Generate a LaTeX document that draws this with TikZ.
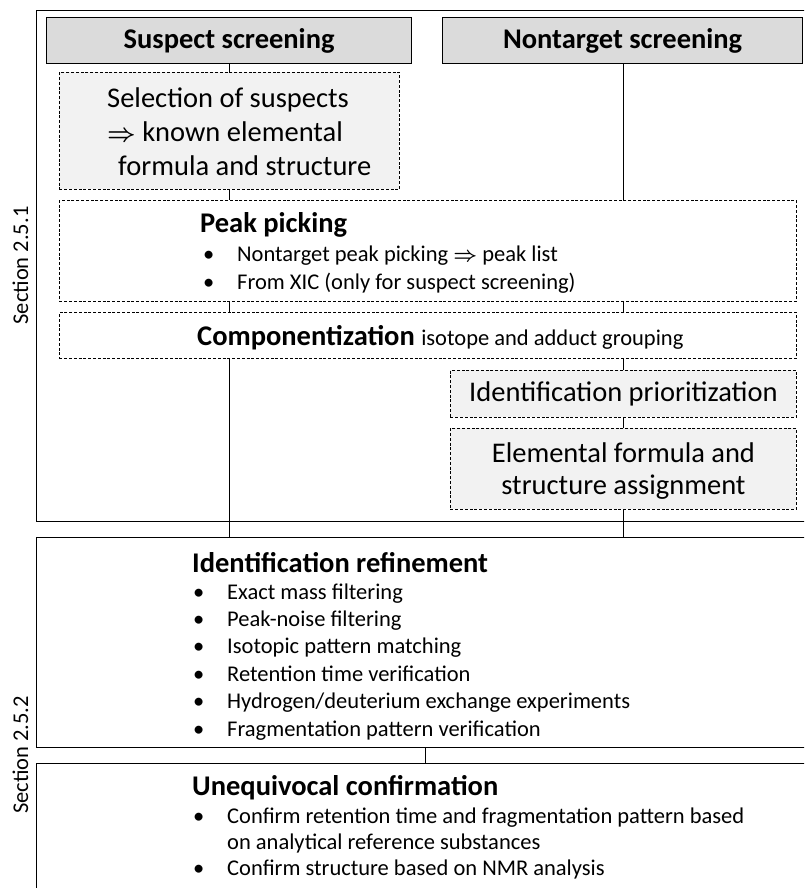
\documentclass[tikz,border=0pt]{standalone}
\usepackage{fontspec}
\setmainfont{Carlito}
\definecolor{hdrgray}{RGB}{219,219,219}
\definecolor{boxgray}{RGB}{242,242,242}
\newcommand\bulitem{\makebox[34pt][l]{•}}
\newcommand\impl{{\boldmath$\Rightarrow$}}
\begin{document}
\begin{tikzpicture}[x=1pt,y=-1pt,
  solidbox/.style={draw, line width=1.2pt, rectangle, anchor=north west, inner sep=0pt},
  header/.style={solidbox, fill=hdrgray, font=\fontsize{28.5}{34}\selectfont\bfseries},
  dbox/.style={draw, line width=0.9pt, dash pattern=on 3pt off 1.8pt, rectangle, anchor=north west, inner sep=0pt},
  bigtext/.style={font=\fontsize{28.5}{34}\selectfont},
  title/.style={anchor=base west, inner sep=0pt, font=\fontsize{28.5}{34}\selectfont\bfseries},
  % multi-line nodes: the base anchor sits on the last line
  items/.style={anchor=base west, inner sep=0pt, align=left, font=\fontsize{22.5}{27.4}\selectfont},
  seclabel/.style={rotate=90, anchor=base, inner sep=0pt, font=\fontsize{22.5}{28}\selectfont},
  conn/.style={draw, line width=1.2pt}
]
\path[use as bounding box] (0,0) rectangle (804,888);
\clip (0,0) rectangle (804,888);

% section frames (open to the right and bottom)
\node[solidbox, minimum width=778pt, minimum height=511pt] (out1) at (36,10) {};
\node[solidbox, minimum width=778pt, minimum height=210pt] (ref) at (36,537) {};
\node[solidbox, minimum width=778pt, minimum height=240pt] (conf) at (36,763) {};

% screening headers
\node[header, minimum width=365pt, minimum height=46pt] (sus) at (46,17) {Suspect screening};
\node[header, minimum width=360pt, minimum height=46pt] (nt) at (442,17) {Nontarget screening};

% workflow boxes
\node[dbox, fill=boxgray, minimum width=340pt, minimum height=117pt] (sel) at (59,72) {};
\node[dbox, minimum width=737pt, minimum height=101pt] (pk) at (59,200) {};
\node[dbox, minimum width=737pt, minimum height=46pt] (comp) at (59,312) {};
\node[dbox, fill=boxgray, bigtext, minimum width=346pt, minimum height=47pt] (prio) at (450,370) {Identification prioritization};
\node[dbox, fill=boxgray, minimum width=346pt, minimum height=81pt] (elem) at (450,428) {};

% texts
\node[anchor=base west, inner sep=0pt, align=left, font=\fontsize{28.5}{34}\selectfont] (seltext) at (107,175)
  {Selection of suspects\\\impl{} known elemental\\\hspace{11pt}formula and structure};

\node[anchor=base, inner sep=0pt, align=center, font=\fontsize{28.5}{32}\selectfont] (elemtext) at (elem.center |- 0,494)
  {Elemental formula and\\structure assignment};

\node[title] (pktitle) at (200,232) {Peak picking};
\node[items] (pkitems) at (203,289)
  {\bulitem Nontarget peak picking \impl{} peak list\\\bulitem From XIC (only for suspect screening)};

\node[anchor=base west, inner sep=0pt, font=\fontsize{28.5}{34}\selectfont] (comptext) at (197,345)
  {\textbf{Componentization} {\fontsize{22.5}{26}\selectfont isotope and adduct grouping}};

\node[title] (reftitle) at (192,572) {Identification refinement};
\node[items] (refitems) at (193,736)
  {\bulitem Exact mass filtering\\
   \bulitem Peak-noise filtering\\
   \bulitem Isotopic pattern matching\\
   \bulitem Retention time verification\\
   \bulitem Hydrogen/deuterium exchange experiments\\
   \bulitem Fragmentation pattern verification};

\node[title] (conftitle) at (192,795) {Unequivocal confirmation};
\node[items, font=\fontsize{22.5}{26}\selectfont] (confitems) at (193,875)
  {\bulitem Confirm retention time and fragmentation pattern based\\
   \hspace{34pt}on analytical reference substances\\
   \bulitem Confirm structure based on NMR analysis};

\node[seclabel] (sec1) at (28,265.5) {Section 2.5.1};
\node[seclabel] (sec2) at (28,755) {Section 2.5.2};

% connectors
\draw[conn] (sel.north |- sus.south) -- (sel.north);
\draw[conn] (sel.south) -- (sel.south |- pk.north);
\draw[conn] (sel.south |- pk.south) -- (sel.south |- comp.north);
\draw[conn] (sel.south |- comp.south) -- (sel.south |- ref.north);
\draw[conn] (prio.north |- nt.south) -- (prio.north |- pk.north);
\draw[conn] (prio.north |- pk.south) -- (prio.north |- comp.north);
\draw[conn] (prio.north |- comp.south) -- (prio.north);
\draw[conn] (prio.south) -- (elem.north);
\draw[conn] (elem.south) -- (elem.south |- ref.north);
\draw[conn] (ref.south) -- (conf.north);
\end{tikzpicture}
\end{document}
